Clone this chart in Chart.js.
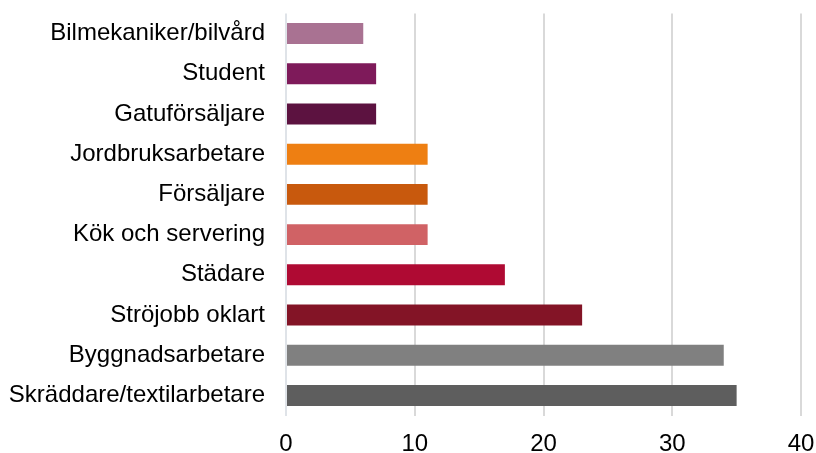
<!DOCTYPE html>
<html>
<head>
<meta charset="utf-8">
<script src="https://cdn.jsdelivr.net/npm/chart.js@4"></script>
<style>
  html, body { margin: 0; padding: 0; background: #fff; }
  #wrap { width: 816px; height: 453px; }
</style>
</head>
<body>
<div id="wrap"><canvas id="occupation-chart"></canvas></div>
<script>
  var occupations = ['Bilmekaniker/bilvård', 'Student', 'Gatuförsäljare', 'Jordbruksarbetare', 'Försäljare',
    'Kök och servering', 'Städare', 'Ströjobb oklart', 'Byggnadsarbetare', 'Skräddare/textilarbetare'];
  var counts = [6, 7, 7, 11, 11, 11, 17, 23, 34, 35];
  var barColors = ['#a97292', '#7e1a5a', '#5c1240', '#ee7f12', '#c8590d',
    '#d06265', '#af0a33', '#831426', '#808080', '#5e5e5e'];
  var xTicks = [0, 10, 20, 30, 40];

  var ctx = document.getElementById('occupation-chart');

  new Chart(ctx, {
    type: 'bar',
    data: {
      labels: occupations,
      datasets: [{
        data: counts,
        backgroundColor: barColors,
        barPercentage: 0.52,
        categoryPercentage: 1
      }]
    },
    options: {
      indexAxis: 'y',
      responsive: true,
      maintainAspectRatio: false,
      animation: false,
      layout: { padding: { top: 13.4, right: 15, bottom: 0, left: 0 } },
      plugins: {
        legend: { display: false },
        tooltip: { enabled: false }
      },
      scales: {
        x: {
          min: 0,
          max: 40,
          afterBuildTicks: function (scale) {
            scale.ticks = xTicks.map(function (v) { return { value: v }; });
          },
          afterFit: function (scale) {
            scale.height = 37.4;
            scale.paddingLeft = 0;
            scale.paddingRight = 0;
          },
          grid: {
            color: function (c) { return c.tick && c.tick.value === 0 ? '#dfe3e8' : '#d9d9d9'; },
            lineWidth: 2,
            drawTicks: false
          },
          border: { display: false },
          ticks: {
            color: '#000',
            padding: 14,
            font: { family: 'Liberation Sans, Arial, sans-serif', size: 24 }
          }
        },
        y: {
          afterFit: function (scale) {
            scale.width = 286;
            scale.paddingTop = 0;
            scale.paddingBottom = 0;
          },
          grid: { display: false },
          border: { display: false },
          ticks: {
            color: '#000',
            padding: 13,
            autoSkip: false,
            font: { family: 'Liberation Sans, Arial, sans-serif', size: 24 }
          }
        }
      }
    }
  });
</script>
</body>
</html>
